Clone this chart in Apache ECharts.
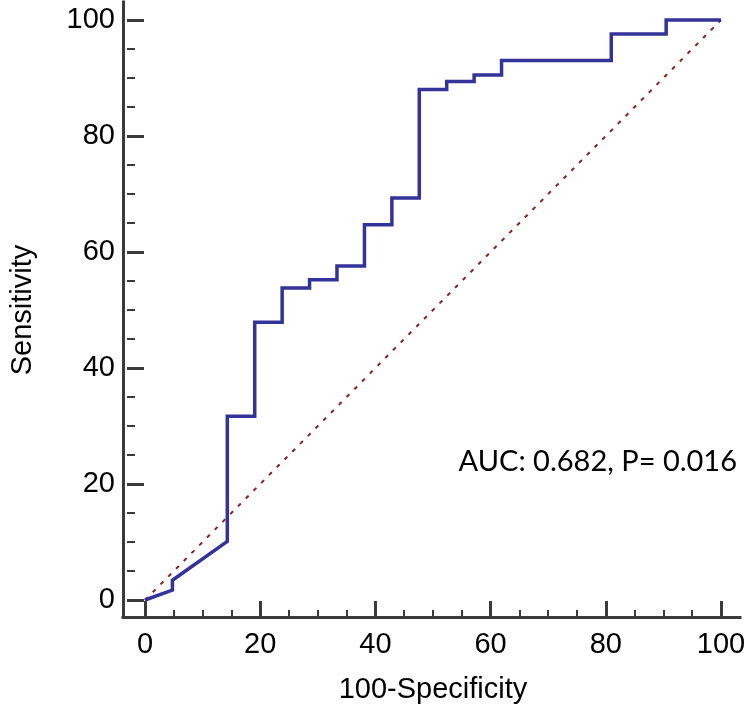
<!DOCTYPE html>
<html>
<head>
<meta charset="utf-8">
<script src="https://cdn.jsdelivr.net/npm/echarts@6/dist/echarts.min.js"></script>
<style>
html,body{margin:0;padding:0;background:#fff;}
#chart{width:750px;height:715px;}
</style>
</head>
<body>
<div id="chart"></div>
<script>
// ROC curve points (100-Specificity, Sensitivity)
var rocX = [0, 4.76, 4.76, 14.29, 14.29, 19.05, 19.05, 23.81, 23.81, 28.57, 28.57, 33.33, 33.33, 38.10, 38.10, 42.86, 42.86, 47.62, 47.62, 52.38, 52.38, 57.14, 57.14, 61.90, 61.90, 80.95, 80.95, 90.48, 90.48, 100];
var rocY = [0, 1.7, 3.4, 10.1, 31.7, 31.7, 47.9, 47.9, 53.8, 53.8, 55.2, 55.2, 57.6, 57.6, 64.7, 64.7, 69.3, 69.3, 88.0, 88.0, 89.4, 89.4, 90.5, 90.5, 93.0, 93.0, 97.6, 97.6, 100, 100];
// Reference (chance) line
var refX = [0, 100];
var refY = [0, 100];
// Annotation
var annotation = 'AUC: 0.682, P= 0.016';
var xName = '100-Specificity';
var yName = 'Sensitivity';

var rocData = rocX.map(function (x, i) { return [x, rocY[i]]; });
var refData = refX.map(function (x, i) { return [x, refY[i]]; });

var axisColor = '#3a3a3a';
var labelFont = {fontFamily: 'Liberation Sans, Arial, sans-serif', fontSize: 29, color: '#000'};

var chart = echarts.init(document.getElementById('chart'), null, {renderer: 'canvas'});
chart.setOption({
  backgroundColor: '#fff',
  animation: false,
  title: {
    text: annotation,
    right: 8,
    top: 442,
    textStyle: {fontFamily: 'Lato, Open Sans, sans-serif', fontSize: 29, fontWeight: 'normal', color: '#000'}
  },
  grid: [
    {left: 141, right: 29, top: 20, bottom: 115},
    {left: 123, right: 10, top: 2, bottom: 98}
  ],
  xAxis: [
    {
      gridIndex: 0, type: 'value', min: 0, max: 100, interval: 20, offset: 17,
      axisLine: {show: false, onZero: false},
      axisTick: {show: true, inside: true, length: 16, lineStyle: {color: axisColor, width: 3}},
      minorTick: {show: true, splitNumber: 4, length: 7, lineStyle: {color: axisColor, width: 2}},
      splitLine: {show: false},
      axisLabel: Object.assign({margin: 13}, labelFont),
      name: xName, nameLocation: 'middle', nameGap: 58,
      nameTextStyle: labelFont
    },
    {
      gridIndex: 1, type: 'value', min: 0, max: 1, show: true,
      axisLine: {show: true, onZero: false, lineStyle: {color: axisColor, width: 3, cap: 'square'}},
      axisTick: {show: false}, axisLabel: {show: false}, splitLine: {show: false}
    }
  ],
  yAxis: [
    {
      gridIndex: 0, type: 'value', min: 0, max: 100, interval: 20, offset: 18,
      axisLine: {show: false, onZero: false},
      axisTick: {show: true, inside: true, length: 17, lineStyle: {color: axisColor, width: 3}},
      minorTick: {show: true, splitNumber: 4, length: 8, lineStyle: {color: axisColor, width: 2}},
      splitLine: {show: false},
      axisLabel: Object.assign({margin: 12}, labelFont),
      name: yName, nameLocation: 'middle', nameGap: 90,
      nameTextStyle: labelFont
    },
    {
      gridIndex: 1, type: 'value', min: 0, max: 1, show: true,
      axisLine: {show: true, onZero: false, lineStyle: {color: axisColor, width: 3, cap: 'square'}},
      axisTick: {show: false}, axisLabel: {show: false}, splitLine: {show: false}
    }
  ],
  series: [
    {
      type: 'line', xAxisIndex: 0, yAxisIndex: 0, data: refData,
      symbol: 'none', clip: false, z: 2,
      lineStyle: {color: '#8b2020', width: 2, type: [4, 7]}
    },
    {
      type: 'line', xAxisIndex: 0, yAxisIndex: 0, data: rocData,
      symbol: 'none', clip: false, z: 3,
      lineStyle: {color: '#333399', width: 3.5, join: 'miter'}
    }
  ]
});
</script>
</body>
</html>
